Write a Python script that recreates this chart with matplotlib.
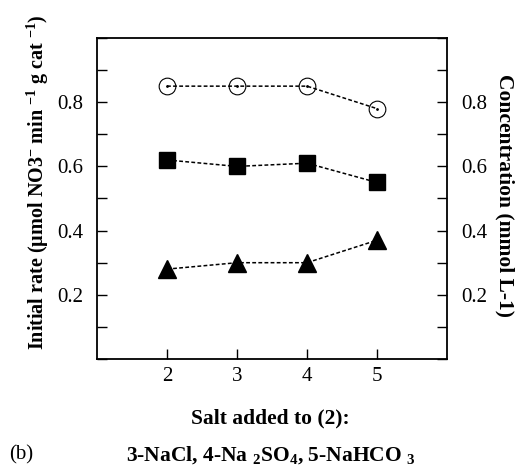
import matplotlib
matplotlib.use("Agg")
import matplotlib.pyplot as plt
from matplotlib.ticker import MultipleLocator

plt.rcParams['font.family'] = ['Liberation Serif', 'DejaVu Serif']
plt.rcParams['mathtext.fontset'] = 'custom'
plt.rcParams['mathtext.rm'] = 'Liberation Serif:bold'
plt.rcParams['mathtext.it'] = 'Liberation Serif:bold'
plt.rcParams['mathtext.bf'] = 'Liberation Serif:bold'

salt = [2, 3, 4, 5]
circles = [0.85, 0.85, 0.85, 0.78]
squares = [0.62, 0.60, 0.61, 0.55]
triangles = [0.28, 0.30, 0.30, 0.37]

fig = plt.figure(figsize=(5.26, 4.67), dpi=100)
ax = fig.add_axes([97 / 526, 1 - 359 / 467, 350 / 526, 321 / 467])

ax.plot(salt, circles, linestyle=(0, (2.5, 1.5)), color='black', lw=1.1,
        marker='o', markersize=12, markerfacecolor='none', markeredgecolor='black',
        markeredgewidth=0.8)
ax.plot(salt, circles, linestyle='none', marker='.', markersize=2, color='black')
ax.plot(salt, squares, linestyle=(0, (2.5, 1.5)), color='black', lw=1.1,
        marker='s', markersize=12)
ax.plot(salt, triangles, linestyle=(0, (2.5, 1.5)), color='black', lw=1.1,
        marker='^', markersize=13)

ax.set_xlim(1, 6)
ax.set_ylim(0, 1.0)
ax.set_xticks(salt)
ax.set_yticks([0.2, 0.4, 0.6, 0.8])
ax.yaxis.set_minor_locator(MultipleLocator(0.1))
ax.tick_params(axis='x', direction='in', top=False, length=7, width=1, labelsize=15, pad=6)
ax.tick_params(axis='y', which='both', direction='in', left=True, right=True,
               labelleft=True, labelright=True, length=7, width=1, labelsize=15, pad=10)
ax.tick_params(axis='y', which='minor', length=7)
for s in ax.spines.values():
    s.set_linewidth(1.3)

fig.text(38 / 526, 1 - 182 / 467,
         r"Initial rate (µmol NO3$^{-}$ min $^{-1}$ g cat $^{-1}$)",
         rotation=90, ha='center', va='center', fontsize=14.5, fontweight='bold')
fig.text(505 / 526, 1 - 195 / 467, "Concentration (mmol L-1)",
         rotation=270, ha='center', va='center', fontsize=15.5, fontweight='bold')
fig.text(270 / 526, 1 - 418 / 467, "Salt added to (2):",
         ha='center', va='center', fontsize=15.5, fontweight='bold')
fig.text(271 / 526, 1 - 455 / 467,
         r"3-NaCl, 4-Na $_{2}$SO$_{4}$, 5-NaHCO $_{3}$",
         ha='center', va='center', fontsize=15.5, fontweight='bold')
fig.text(9 / 526, 1 - 455 / 467, "(b)", ha='left', va='center', fontsize=15)

fig.savefig("out.png", dpi=100)
